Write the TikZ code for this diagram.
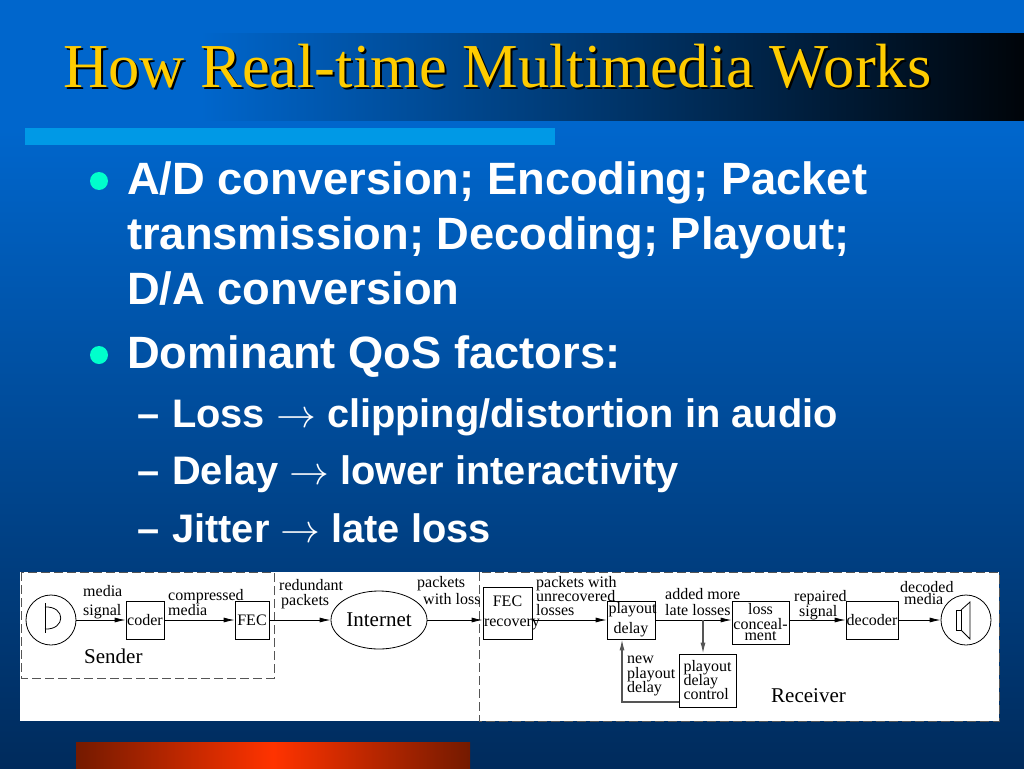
\documentclass[tikz,border=0pt]{standalone}
\usepackage{fix-cm}
\usepackage{amsmath,amssymb}
\usepackage{fontspec}
\setmainfont{Liberation Serif}
\newfontfamily\slidesans{Liberation Sans}
\usepackage{tikz}
\usetikzlibrary{positioning}
\usetikzlibrary{arrows.meta}
\usetikzlibrary{shapes}
\usetikzlibrary{calc}
\definecolor{skytop}{HTML}{0066CC}
\definecolor{skybot}{HTML}{002B5C}
\definecolor{barblue}{HTML}{0099E6}
\definecolor{titlegold}{HTML}{FFCC00}
\definecolor{bulletteal}{HTML}{00FFCC}
\definecolor{embers}{HTML}{741A00}
\definecolor{flame}{HTML}{FF3300}
\definecolor{inkgrey}{HTML}{555555}

\begin{document}
\begin{tikzpicture}[x=1pt,y=-1pt]
\tikzset{headline/.style={anchor=base west,inner sep=0pt,font=\fontsize{62.5}{63}\selectfont}}
\tikzset{bigline/.style={anchor=base west,align=left,inner sep=0pt,text=white,font=\slidesans\bfseries\fontsize{45.3}{55}\selectfont}}
\tikzset{subline/.style={anchor=base west,inner sep=0pt,text=white,font=\slidesans\bfseries\fontsize{39.8}{44}\selectfont}}
\tikzset{dot/.style={circle,minimum width=18pt,inner sep=0pt,fill=bulletteal}}
\tikzset{block/.style={rectangle,draw,inner sep=0pt,align=center,line width=0.8pt,font=\fontsize{16}{15}\selectfont}}
\tikzset{lab/.style={anchor=base west,inner sep=0pt,align=left,font=\fontsize{16}{15}\selectfont}}
\tikzset{biglab/.style={anchor=base west,inner sep=0pt,font=\fontsize{21}{21}\selectfont}}
\tikzset{zone/.style={draw=inkgrey,dashed,dash pattern=on 9pt off 4pt,line width=1pt}}
\tikzset{flow/.style={-{Latex[length=11pt,width=5pt]},line width=0.8pt}}
\tikzset{backflow/.style={-{Latex[length=11pt,width=5pt]},line width=1.2pt,draw=inkgrey}}

\useasboundingbox (0,0) rectangle (1024,768);
\fill[skytop] (0,0) rectangle (1024,130);
\shade[top color=skytop,bottom color=skybot] (0,130) rectangle (1024,768);
\shade[left color=skytop,right color=black!90!skybot] (200,34) rectangle (1024,120);
\fill[barblue] (25,128) rectangle (555,145);
\shade[left color=embers,right color=flame] (76,742) rectangle (273,768);
\shade[left color=flame,right color=embers] (273,742) rectangle (470,768);

\node[headline,text=black] (titleshadow) at (65,89) {How Real-time Multimedia Works};
\node[headline,text=titlegold] (title) at (63,87) {How Real-time Multimedia Works};

\node[dot] (bullet1) at (99,181) {};
\node[bigline] (point1) at (127,304) {A/D conversion; Encoding; Packet\\transmission; Decoding; Playout;\\D/A conversion};
\node[dot] (bullet2) at (99,355) {};
\node[bigline] (point2) at (127,368) {Dominant QoS factors:};
\node[subline] (dash1) at (137,427) {–};
\node[subline] (sub1) at (172,427) {Loss $\rightarrow$ clipping/distortion in audio};
\node[subline] (dash2) at (137,484) {–};
\node[subline] (sub2) at (172,484) {Delay $\rightarrow$ lower interactivity};
\node[subline] (dash3) at (137,542) {–};
\node[subline] (sub3) at (172,542) {Jitter $\rightarrow$ late loss};

\fill[white] (20,572) rectangle (999,721);
\draw[zone] (21,572) rectangle (274,678);
\draw[zone] (479,572) rectangle (999,721);

\node[circle,draw,minimum width=50pt,inner sep=0pt,line width=0.8pt] (mic) at (51,620) {};
\draw[line width=0.8pt] (45,603) -- (45,633);
\draw[line width=0.8pt] (45,607) .. controls (66,606) and (66,630) .. (45,629);
\node[block,minimum width=38pt,minimum height=38pt] (coder) at (145,620) {coder};
\node[block,minimum width=34pt,minimum height=38pt] (fec) at (252,620) {FEC};
\node[ellipse,draw,minimum width=96pt,minimum height=58pt,inner sep=0pt,line width=0.8pt,font=\fontsize{21}{21}\selectfont] (internet) at (379,620) {Internet};
\node[block,minimum width=49pt,minimum height=52pt] (recovery) at (507.5,613) {FEC\\[5pt]\makebox[0pt]{\hspace{9pt}recovery}};
\node[block,minimum width=48pt,minimum height=38pt] (playout) at (631,620) {\makebox[0pt]{\hspace{3pt}playout}\\[5pt]delay};
\node[block,minimum width=57pt,minimum height=43pt] (conceal) at (760.5,622.5) {loss\\\makebox[0pt]{conceal-}\\[-4pt]ment};
\node[block,minimum width=52pt,minimum height=38pt] (decoder) at (872,620) {decoder};
\node[circle,draw,minimum width=50pt,inner sep=0pt,line width=0.8pt] (speaker) at (966,620) {};
\draw[line width=0.8pt] (956,610) rectangle (961,630);
\draw[line width=0.8pt] (961,610) -- (970,602) -- (970,639) -- (961,630);
\node[block,minimum width=57pt,minimum height=53pt,align=left] (control) at (707.5,680.5) {playout\\[-1pt]delay\\[-1pt]control};

\coordinate (tap) at (703,620);
\coordinate (turn) at (622,702);
\draw[flow] (mic) -- (coder);
\draw[flow] (coder) -- (fec);
\draw[flow] (fec) -- (internet);
\draw[flow] (internet.east) -- (internet.east -| recovery.west);
\draw[flow] (recovery.east |- playout.west) -- (playout.west);
\draw[flow] (playout.east) -- (playout.east -| conceal.west);
\draw[flow] (conceal.east |- decoder.west) -- (decoder.west);
\draw[flow] (decoder.east) -- (speaker.west);
\draw[backflow] (tap) -- (tap |- control.north);
\draw[backflow] (turn -| control.west) -- (turn) -- (turn |- playout.south);

\node[lab] (lab1) at (83,615) {media\\[4pt]signal};
\node[lab] (lab2) at (168,615) {compressed\\media};
\node[lab] (lab3) at (279,605) {redundant\\\hspace{2pt}packets};
\node[lab] (lab4) at (417,604) {packets\\[2pt]\hspace{6pt}with loss};
\node[lab] (lab5) at (536,615) {packets with\\[-1pt]unrecovered\\[-1pt]losses};
\node[lab] (lab6) at (665,615) {added more\\[1pt]late losses};
\node[lab] (lab7) at (627,692) {new\\playout\\[-1pt]delay};
\node[lab] (lab8) at (794,616) {repaired\\\hspace{5pt}signal};
\node[lab] (lab9) at (900,604) {decoded\\[-3pt]\hspace{4pt}media};
\node[biglab] (sender) at (84,663) {Sender};
\node[biglab] (receiver) at (771,702) {Receiver};
\end{tikzpicture}
\end{document}
